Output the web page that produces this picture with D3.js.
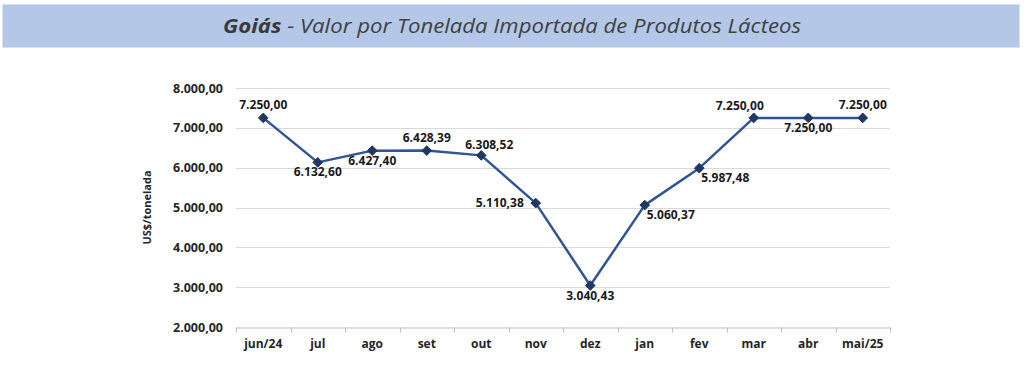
<!DOCTYPE html>
<html>
<head>
<meta charset="utf-8">
<script src="https://cdn.jsdelivr.net/npm/d3@7"></script>
<style>
  body { margin: 0; background: #ffffff; }
  svg { display: block; }
</style>
</head>
<body>
<svg id="drawing_region"></svg>
<script>
// dados
const months = ['jun/24', 'jul', 'ago', 'set', 'out', 'nov', 'dez', 'jan', 'fev', 'mar', 'abr', 'mai/25'];
const values = [7250.00, 6132.60, 6427.40, 6428.39, 6308.52, 5110.38, 3040.43, 5060.37, 5987.48, 7250.00, 7250.00, 7250.00];
const yTicks = [2000, 3000, 4000, 5000, 6000, 7000, 8000];
// where each data label sits relative to its marker
const labelPlace = ['above', 'below', 'below', 'above', 'aboveright', 'left', 'below', 'right', 'right', 'aboveleft', 'below', 'above'];

const titleBold = 'Goiás';
const titleRest = ' - Valor por Tonelada Importada de Produtos Lácteos';
const yTitle = 'US$/tonelada';

const W = 1024, H = 375;
const margin = {top: 88, right: 134, bottom: 48, left: 236};
const innerW = W - margin.left - margin.right;
const innerH = H - margin.top - margin.bottom;

const ptBR = d3.formatLocale({decimal: ',', thousands: '.', grouping: [3], currency: ['', '']});
const fmt = ptBR.format(',.2f');

const svg = d3.select('#drawing_region')
    .attr('width', W)
    .attr('height', H);

// title band
svg.append('rect')
    .attr('x', 2.5).attr('y', 4.5)
    .attr('width', 1017).attr('height', 43)
    .attr('fill', '#b4c7e7')
    .attr('stroke', '#dae3f3');

const title = svg.append('text')
    .attr('x', 512).attr('y', 33)
    .attr('text-anchor', 'middle')
    .attr('font-family', 'Open Sans, sans-serif')
    .attr('font-size', 20)
    .attr('font-style', 'italic')
    .attr('fill', '#404040')
    .attr('textLength', 578)
    .attr('lengthAdjust', 'spacingAndGlyphs');
title.append('tspan').attr('font-weight', 'bold').attr('fill', '#3a3a3a').text(titleBold);
title.append('tspan').text(titleRest);

const g = svg.append('g')
    .attr('transform', `translate(${margin.left},${margin.top})`);

const x = d3.scaleBand().domain(months).range([0, innerW]);
const y = d3.scaleLinear().domain([2000, 8000]).range([innerH, 0]);

// gridlines
g.selectAll('line.grid')
    .data(yTicks.filter(d => d > 2000))
    .enter().append('line')
    .attr('class', 'grid')
    .attr('x1', 0).attr('x2', innerW)
    .attr('y1', d => Math.round(y(d)) + 0.5)
    .attr('y2', d => Math.round(y(d)) + 0.5)
    .attr('stroke', '#d9d9d9')
    .attr('stroke-width', 1);

// y axis labels
const yAxis = g.append('g')
    .call(d3.axisLeft(y).tickValues(yTicks).tickFormat(fmt).tickSize(0).tickPadding(13));
yAxis.select('.domain').remove();
yAxis.selectAll('text')
    .attr('font-family', 'Open Sans, sans-serif')
    .attr('font-size', 12.5)
    .attr('font-weight', 'bold')
    .attr('fill', '#262626');

// x axis
const xAxis = g.append('g')
    .attr('transform', `translate(0,${Math.round(innerH) + 0.5})`)
    .call(d3.axisBottom(x).tickSize(0).tickPadding(12));
xAxis.select('.domain').attr('stroke', '#bfbfbf');
xAxis.selectAll('text')
    .attr('font-family', 'Open Sans, sans-serif')
    .attr('font-size', 12)
    .attr('font-weight', 'bold')
    .attr('fill', '#262626');
// tick marks at category boundaries
xAxis.selectAll('line.bound')
    .data(d3.range(months.length + 1))
    .enter().append('line')
    .attr('class', 'bound')
    .attr('x1', i => Math.round(i * x.step()) + 0.5)
    .attr('x2', i => Math.round(i * x.step()) + 0.5)
    .attr('y1', 0).attr('y2', 5)
    .attr('stroke', '#bfbfbf');

// y title
svg.append('text')
    .attr('transform', `translate(151,${margin.top + innerH / 2}) rotate(-90)`)
    .attr('text-anchor', 'middle')
    .attr('font-family', 'Open Sans, sans-serif')
    .attr('font-size', 11)
    .attr('font-weight', 'bold')
    .attr('fill', '#262626')
    .text(yTitle);

const cx = (d, i) => x(months[i]) + x.bandwidth() / 2;

// line
const line = d3.line()
    .x((d, i) => cx(d, i))
    .y(d => y(d));
g.append('path')
    .datum(values)
    .attr('d', line)
    .attr('fill', 'none')
    .attr('stroke', '#2f5597')
    .attr('stroke-width', 2.5)
    .attr('stroke-linejoin', 'round');

// diamond markers
const diamond = d3.symbol().type(d3.symbolDiamond2).size(60);
g.selectAll('path.marker')
    .data(values)
    .enter().append('path')
    .attr('class', 'marker')
    .attr('d', diamond)
    .attr('transform', (d, i) => `translate(${cx(d, i)},${y(d)})`)
    .attr('fill', '#203864')
    .attr('stroke', '#203864')
    .attr('stroke-width', 1);

// data labels
const place = {
    above:      {dx: 0,   dy: -9, anchor: 'middle'},
    below:      {dx: 0,   dy: 14, anchor: 'middle'},
    left:       {dx: -12, dy: 4,  anchor: 'end'},
    right:      {dx: 2,   dy: 14, anchor: 'start'},
    aboveleft:  {dx: -14, dy: -8, anchor: 'middle'},
    aboveright: {dx: 8,   dy: -6, anchor: 'middle'}
};
g.selectAll('text.lbl')
    .data(values)
    .enter().append('text')
    .attr('class', 'lbl')
    .attr('x', (d, i) => cx(d, i) + place[labelPlace[i]].dx)
    .attr('y', (d, i) => y(d) + place[labelPlace[i]].dy)
    .attr('text-anchor', (d, i) => place[labelPlace[i]].anchor)
    .attr('font-family', 'Open Sans, sans-serif')
    .attr('font-size', 12)
    .attr('font-weight', 'bold')
    .attr('fill', '#1a1a1a')
    .text(d => fmt(d));
</script>
</body>
</html>
